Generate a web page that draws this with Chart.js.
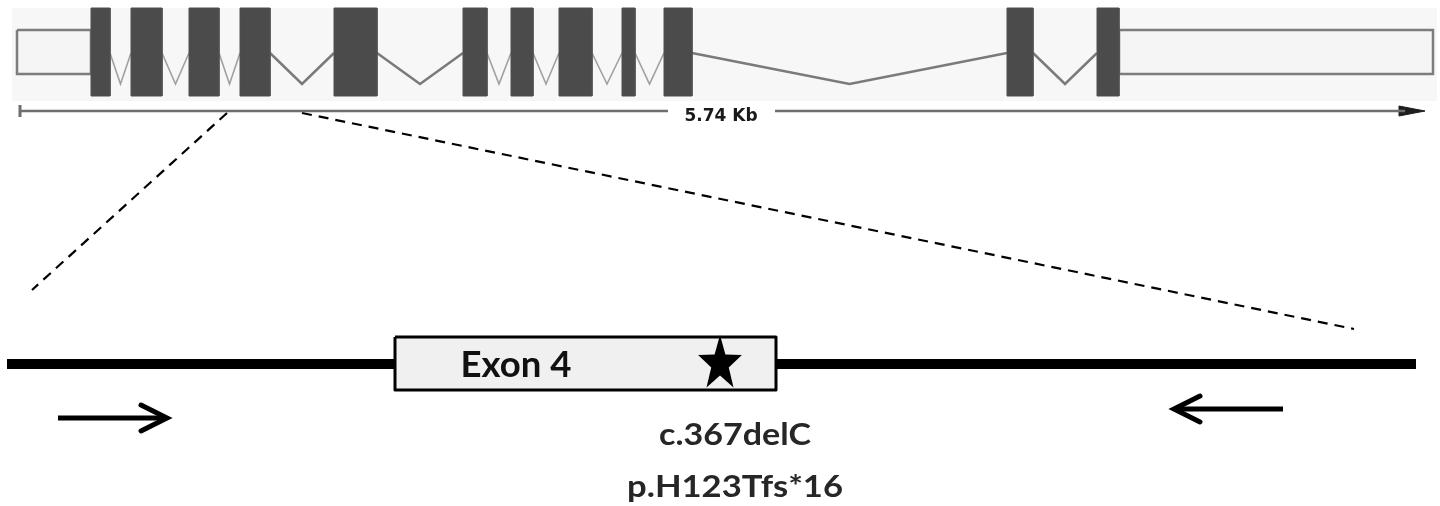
<!DOCTYPE html>
<html>
<head>
<meta charset="utf-8">
<script src="https://cdn.jsdelivr.net/npm/chart.js@4/dist/chart.umd.min.js"></script>
<style>
html, body { margin: 0; padding: 0; background: #fff; }
#wrap { width: 1440px; height: 506px; position: relative; }
</style>
</head>
<body>
<div id="wrap"><canvas id="geneChart"></canvas></div>
<script>

/* gene model, in diagram units along the gene (left to right) */
var exonStart = [91, 131, 189, 240, 334, 463, 511, 559, 622, 664, 1007, 1097];
var exonEnd   = [110, 162, 219, 270, 377, 487, 533, 592, 635, 692, 1033, 1119];
var utrStart  = [17, 1119];
var utrEnd    = [91, 1433];
var geneSpan  = [20, 1425];   // the 5.74 Kb scale bar
var scaleLabel = "5.74 Kb";

/* zoomed exon 4 */
var zoomExonName = "Exon 4";
var zoomRegion = [7, 1416];
var zoomExon   = [395, 776];
var mutationAt = [720];
var mutationText = ["c.367delC", "p.H123Tfs*16"];
var primerFwd = [58, 167];
var primerRev = [1283, 1174];

/* vertical layout of the two panels */
var topRow = 8, bottomRow = 96, utrTop = 30, utrBottom = 74;
var intronTop = 53, intronDip = 84, barY = 111;
var lineY = 364, boxTop = 337, boxBottom = 390;

function rect(x0, x1, y0, y1) {
  return [{x: x0, y: y0}, {x: x1, y: y0}, {x: x1, y: y1}, {x: x0, y: y1}, {x: x0, y: y0}];
}

function lineSet(pts, color, width, extra) {
  var ds = {
    data: pts, showLine: true, borderColor: color, borderWidth: width,
    pointRadius: 0, fill: false, tension: 0, borderCapStyle: 'butt'
  };
  for (var k in extra) ds[k] = extra[k];
  return ds;
}

/* filled star used as point style for the mutation */
function makeStar() {
  var c = document.createElement('canvas');
  c.width = 46; c.height = 54;
  var g = c.getContext('2d');
  g.fillStyle = '#000';
  g.beginPath();
  for (var i = 0; i < 10; i++) {
    var r = (i % 2 == 0) ? 1 : 0.4;
    var a = -Math.PI / 2 + i * Math.PI / 5;
    var px = 23 + r * 23 * Math.cos(a);
    var py = 29 + r * 29 * Math.sin(a);
    if (i == 0) g.moveTo(px, py); else g.lineTo(px, py);
  }
  g.closePath();
  g.fill();
  return c;
}

var datasets = [];

// light panel behind the gene model
datasets.push(lineSet(rect(12, 1437, 8, 101), 'rgba(0,0,0,0)', 0, {fill: 'shape', backgroundColor: '#f7f7f7', order: 20}));

// UTRs
for (var u = 0; u < utrStart.length; u++) {
  datasets.push(lineSet(rect(utrStart[u], utrEnd[u], utrTop, utrBottom), '#7d7d7d', 2.5, {fill: 'shape', backgroundColor: '#f5f5f5', order: 12}));
}

// introns as V shapes between exons
for (var i = 0; i < exonStart.length - 1; i++) {
  var a = exonEnd[i], b = exonStart[i + 1];
  var wide = (b - a) > 40;
  datasets.push(lineSet([{x: a, y: intronTop}, {x: (a + b) / 2, y: intronDip}, {x: b, y: intronTop}],
    wide ? '#7a7a7a' : '#a0a0a0', wide ? 2.5 : 1.6, {order: 11, borderJoinStyle: 'miter'}));
}

// exons
for (var e = 0; e < exonStart.length; e++) {
  datasets.push(lineSet(rect(exonStart[e], exonEnd[e], topRow, bottomRow), '#505050', 1, {fill: 'shape', backgroundColor: '#4b4b4b', order: 10}));
}

// scale bar with gap for its label, tick and arrow head
datasets.push(lineSet([{x: geneSpan[0], y: barY}, {x: 668, y: barY}], '#6e6e6e', 2.5, {order: 9}));
datasets.push(lineSet([{x: 775, y: barY}, {x: geneSpan[1] - 20, y: barY}], '#6e6e6e', 2.5, {order: 9}));
datasets.push(lineSet([{x: geneSpan[0], y: barY - 6}, {x: geneSpan[0], y: barY + 6}], '#6e6e6e', 3, {order: 9}));
datasets.push(lineSet([{x: geneSpan[1] - 26, y: barY - 5}, {x: geneSpan[1], y: barY}, {x: geneSpan[1] - 26, y: barY + 5}, {x: geneSpan[1] - 26, y: barY - 5}],
  '#1e1e1e', 1, {fill: 'shape', backgroundColor: '#1e1e1e', order: 9}));

// dashed zoom lines from exon 4 down to the detail view
datasets.push(lineSet([{x: 227, y: 113}, {x: 32, y: 290}], '#000', 2.2, {borderDash: [10, 7], order: 8}));
datasets.push(lineSet([{x: 302, y: 113}, {x: 1354, y: 329}], '#000', 2.2, {borderDash: [10, 7], order: 8}));

// genomic line and exon box
datasets.push(lineSet([{x: zoomRegion[0], y: lineY}, {x: zoomRegion[1], y: lineY}], '#000', 10, {order: 7}));
datasets.push(lineSet(rect(zoomExon[0], zoomExon[1], boxTop, boxBottom), '#000', 3, {fill: 'shape', backgroundColor: '#f0f0f0', order: 6, borderJoinStyle: 'round'}));

// primer arrows
datasets.push(lineSet([{x: primerFwd[0], y: 418}, {x: primerFwd[1] - 2, y: 418}], '#000', 5, {order: 5}));
datasets.push(lineSet([{x: primerFwd[1] - 26, y: 405}, {x: primerFwd[1], y: 418}, {x: primerFwd[1] - 26, y: 431}], '#000', 5,
  {order: 5, borderCapStyle: 'round', borderJoinStyle: 'miter'}));
datasets.push(lineSet([{x: primerRev[0], y: 409}, {x: primerRev[1] + 2, y: 409}], '#000', 5, {order: 5}));
datasets.push(lineSet([{x: primerRev[1] + 26, y: 396}, {x: primerRev[1], y: 409}, {x: primerRev[1] + 26, y: 422}], '#000', 5,
  {order: 5, borderCapStyle: 'round', borderJoinStyle: 'miter'}));

// mutation star
datasets.push({data: [{x: mutationAt[0], y: 362}], showLine: false, pointStyle: makeStar(), pointRadius: 25, order: 1});

/* draw a label stretched to a given width (the source figure is wider than the font) */
function fitText(ctx, txt, cx, y, w) {
  var m = ctx.measureText(txt).width;
  ctx.save();
  ctx.translate(cx, y);
  ctx.scale(w / m, 1);
  ctx.textAlign = 'center';
  ctx.fillText(txt, 0, 0);
  ctx.restore();
}

/* text labels drawn at scale positions */
var textPlugin = {
  id: 'geneText',
  afterDatasetsDraw: function(chart) {
    var ctx = chart.ctx, xs = chart.scales.x, ys = chart.scales.y;
    ctx.save();
    ctx.fillStyle = '#1a1a1a';
    ctx.textBaseline = 'alphabetic';
    ctx.textAlign = 'center';
    ctx.font = 'bold 17px "DejaVu Sans"';
    ctx.fillText(scaleLabel, xs.getPixelForValue(721), ys.getPixelForValue(121));

    ctx.fillStyle = '#111';
    ctx.font = 'bold 36px Lato';
    fitText(ctx, zoomExonName, xs.getPixelForValue(516), ys.getPixelForValue(377), 111);

    ctx.fillStyle = '#262626';
    ctx.font = 'bold 30px Lato';
    fitText(ctx, mutationText[0], xs.getPixelForValue(735), ys.getPixelForValue(445), 152);
    fitText(ctx, mutationText[1], xs.getPixelForValue(735), ys.getPixelForValue(497), 216);
    ctx.restore();
  }
};

var chart = new Chart(document.getElementById('geneChart'), {
  type: 'scatter',
  data: {datasets: datasets},
  options: {
    responsive: true,
    maintainAspectRatio: false,
    animation: false,
    events: [],
    layout: {padding: 0, autoPadding: false},
    scales: {
      x: {type: 'linear', min: 0, max: 1440, display: false},
      y: {type: 'linear', min: 0, max: 506, reverse: true, display: false}
    },
    elements: {line: {clip: false}},
    plugins: {
      legend: {display: false},
      tooltip: {enabled: false}
    }
  },
  plugins: [textPlugin]
});
</script>
</body>
</html>
